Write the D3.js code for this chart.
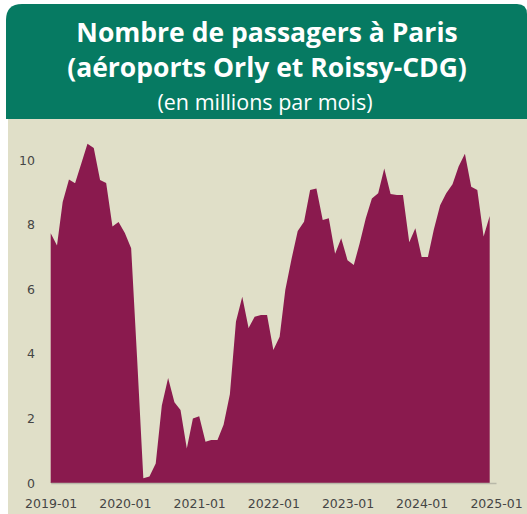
<!DOCTYPE html>
<html>
<head>
<meta charset="utf-8">
<script src="https://cdn.jsdelivr.net/npm/d3@7"></script>
<style>
  body { margin: 0; background: #ffffff; }
  .axisLabel { font-family: "DejaVu Sans", sans-serif; font-size: 12.5px; fill: #454545; }
</style>
</head>
<body>
<div id="graph"></div>
<script>
"use strict";

// Monthly passengers, Orly + Roissy-CDG (millions), 2019-01 .. 2024-12
let months = d3.range(72).map(i => new Date(2019, i, 1))
let passengers = [
  7.73, 7.35, 8.70, 9.40, 9.28, 9.90, 10.50, 10.37, 9.38, 9.29, 7.94, 8.08,
  7.74, 7.27, 3.90, 0.15, 0.20, 0.60, 2.40, 3.25, 2.50, 2.26, 1.07, 2.00,
  2.07, 1.28, 1.33, 1.33, 1.80, 2.75, 5.00, 5.77, 4.80, 5.15, 5.20, 5.20,
  4.12, 4.53, 5.98, 6.95, 7.80, 8.09, 9.07, 9.12, 8.14, 8.20, 7.10, 7.58,
  6.90, 6.75, 7.40, 8.20, 8.81, 8.97, 9.74, 8.95, 8.92, 8.92, 7.45, 7.89,
  7.00, 7.00, 7.85, 8.60, 8.97, 9.25, 9.80, 10.19, 9.17, 9.07, 7.63, 8.27
]
let yTicks = [0, 2, 4, 6, 8, 10]
let xTicks = d3.range(7).map(i => new Date(2019 + i, 0, 1))

let titleLines = ["Nombre de passagers à Paris", "(aéroports Orly et Roissy-CDG)"]
let subtitle = "(en millions par mois)"

let width = 527, height = 514

let svg = d3.select("#graph")
  .append("svg")
  .attr("width", width)
  .attr("height", height)

// header panel (green, rounded top corners)
let hx = 6, hy = 4, hw = width - 6, hh = 115, r = 16
svg.append("path")
  .attr("d", `M${hx},${hy + hh} V${hy + r} Q${hx},${hy} ${hx + r},${hy} H${hx + hw - 10} Q${hx + hw},${hy} ${hx + hw},${hy + 10} V${hy + hh} Z`)
  .attr("fill", "#067a62")

// chart panel (beige)
svg.append("rect")
  .attr("x", 8)
  .attr("y", 119)
  .attr("width", width - 8)
  .attr("height", height - 119)
  .attr("fill", "#e0dfc8")

// titles
svg.selectAll(".title")
  .data(titleLines)
  .enter()
  .append("text")
  .attr("class", "title")
  .attr("x", 267)
  .attr("y", (d, i) => 42 + i * 35)
  .attr("text-anchor", "middle")
  .style("font-family", "'Open Sans', sans-serif")
  .style("font-weight", "bold")
  .style("font-size", "26.5px")
  .style("fill", "#ffffff")
  .text(d => d)

svg.append("text")
  .attr("x", 265)
  .attr("y", 110)
  .attr("text-anchor", "middle")
  .style("font-family", "'Open Sans', sans-serif")
  .style("font-size", "21.5px")
  .style("fill", "#ffffff")
  .text(subtitle)

// scales
let xScale = d3.scaleTime()
  .domain([new Date(2019, 0, 1), new Date(2025, 0, 1)])
  .range([50.7, 496])
let yScale = d3.scaleLinear()
  .domain([0, 10])
  .range([483, 160])

// area
let area = d3.area()
  .curve(d3.curveLinear)
  .x(d => xScale(d.date))
  .y0(yScale(0))
  .y1(d => yScale(d.value))

let data = months.map((m, i) => ({date: m, value: passengers[i]}))

svg.append("path")
  .datum(data)
  .attr("d", area)
  .attr("fill", "#8a1a4e")

// x axis
let xAxis = d3.axisBottom(xScale)
  .tickValues(xTicks)
  .tickSize(0)
  .tickPadding(16)
  .tickFormat(d3.timeFormat("%Y-%m"))

let gx = svg.append("g")
  .attr("transform", `translate(0,${yScale(0)})`)
  .call(xAxis)
gx.select(".domain").attr("stroke", "#b8b8a8").attr("stroke-width", 1.5)
gx.selectAll("text").attr("class", "axisLabel").attr("fill", null)

// y axis (labels only)
let yAxis = d3.axisLeft(yScale)
  .tickValues(yTicks)
  .tickSize(0)
  .tickPadding(0)

let gy = svg.append("g")
  .attr("transform", "translate(35,0)")
  .call(yAxis)
gy.select(".domain").remove()
gy.selectAll("text").attr("class", "axisLabel").attr("fill", null)
</script>
</body>
</html>
